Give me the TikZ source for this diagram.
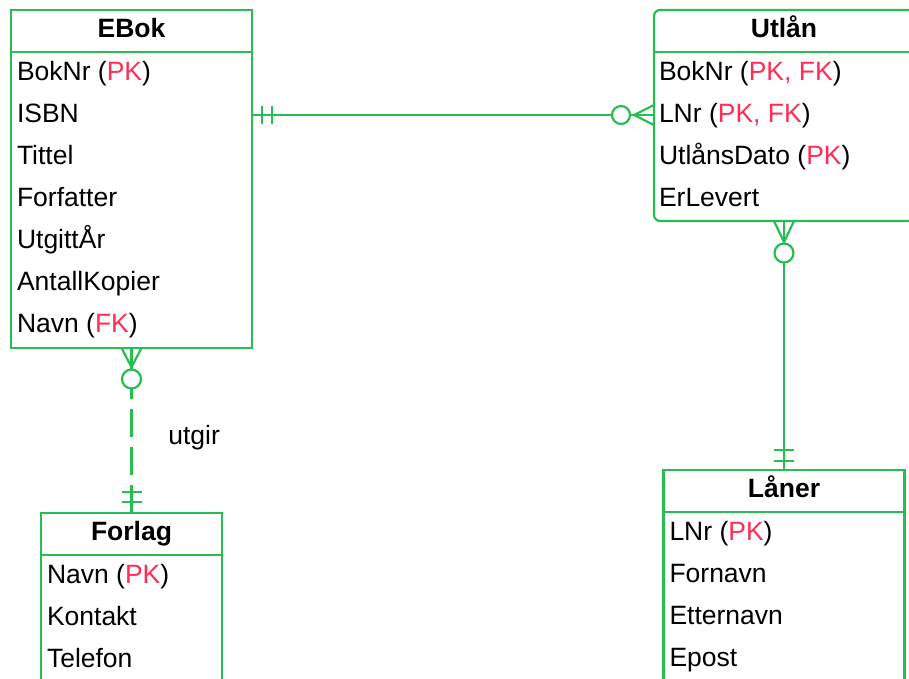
\documentclass[tikz,border=0pt]{standalone}
\usepackage{fontspec}
\setmainfont{Liberation Sans}
\usepackage{xcolor}
\usepackage{tikz}
\usetikzlibrary{positioning,calc}

\definecolor{ergreen}{RGB}{38,190,80}
\definecolor{keyred}{RGB}{255,45,85}
\newcommand{\key}[1]{\textcolor{keyred}{#1}}
\newcommand{\erfont}{\fontsize{26.5}{30}\selectfont}

\tikzset{
  entity/.style={draw=ergreen, line width=2.2pt, rectangle, inner sep=0pt, anchor=north west},
  etitle/.style={minimum height=42pt, inner sep=0pt, text height=19pt, text depth=6pt, font=\erfont\bfseries, anchor=north},
  attr/.style={inner sep=0pt, text height=19pt, text depth=5pt, anchor=west},
  erline/.style={draw=ergreen, line width=2.2pt, line join=round},
}

\begin{document}
\begin{tikzpicture}[x=1pt, y=-1pt, node distance=0cm, outer sep=0pt, font=\erfont]
    \useasboundingbox (0,0) rectangle (909,678);
    \clip (0,0) rectangle (909,678);

    % EBok
    \node [entity, minimum width=241pt, minimum height=338pt] (ebok) at (11,10) {};
    \node [etitle] (ebok-t) at (ebok.north) {EBok};
    \draw [erline] (ebok.west |- ebok-t.south) -- (ebok.east |- ebok-t.south);
    \node [attr] (ebok-a1) at ($(ebok.west |- ebok-t.south)+(6,21)$) {BokNr (\key{PK})};
    \node [attr, below=18pt of ebok-a1.south west, anchor=north west] (ebok-a2) {ISBN};
    \node [attr, below=18pt of ebok-a2.south west, anchor=north west] (ebok-a3) {Tittel};
    \node [attr, below=18pt of ebok-a3.south west, anchor=north west] (ebok-a4) {Forfatter};
    \node [attr, below=18pt of ebok-a4.south west, anchor=north west] (ebok-a5) {UtgittÅr};
    \node [attr, below=18pt of ebok-a5.south west, anchor=north west] (ebok-a6) {AntallKopier};
    \node [attr, below=18pt of ebok-a6.south west, anchor=north west] (ebok-a7) {Navn (\key{FK})};

    % Utlån
    \node [entity, rounded corners=6pt, minimum width=260pt, minimum height=211pt] (utlan) at (654,10) {};
    \node [etitle] (utlan-t) at (utlan.north) {Utlån};
    \draw [erline] (utlan.west |- utlan-t.south) -- (utlan.east |- utlan-t.south);
    \node [attr] (utlan-a1) at ($(utlan.west |- utlan-t.south)+(5,21)$) {BokNr (\key{PK, FK})};
    \node [attr, below=18pt of utlan-a1.south west, anchor=north west] (utlan-a2) {LNr (\key{PK, FK})};
    \node [attr, below=18pt of utlan-a2.south west, anchor=north west] (utlan-a3) {UtlånsDato (\key{PK})};
    \node [attr, below=18pt of utlan-a3.south west, anchor=north west] (utlan-a4) {ErLevert};

    % Forlag
    \node [entity, minimum width=181pt, minimum height=230pt] (forlag) at (41,513) {};
    \node [etitle] (forlag-t) at (forlag.north) {Forlag};
    \draw [erline] (forlag.west |- forlag-t.south) -- (forlag.east |- forlag-t.south);
    \node [attr] (forlag-a1) at ($(forlag.west |- forlag-t.south)+(6,21)$) {Navn (\key{PK})};
    \node [attr, below=18pt of forlag-a1.south west, anchor=north west] (forlag-a2) {Kontakt};
    \node [attr, below=18pt of forlag-a2.south west, anchor=north west] (forlag-a3) {Telefon};

    % Låner
    \node [entity, minimum width=241pt, minimum height=230pt] (laner) at (663.5,470) {};
    \node [etitle] (laner-t) at (laner.north) {Låner};
    \draw [erline] (laner.west |- laner-t.south) -- (laner.east |- laner-t.south);
    \node [attr] (laner-a1) at ($(laner.west |- laner-t.south)+(6,21)$) {LNr (\key{PK})};
    \node [attr, below=18pt of laner-a1.south west, anchor=north west] (laner-a2) {Fornavn};
    \node [attr, below=18pt of laner-a2.south west, anchor=north west] (laner-a3) {Etternavn};
    \node [attr, below=18pt of laner-a3.south west, anchor=north west] (laner-a4) {Epost};

    % EBok -- Utlån (one to zero-or-many)
    \coordinate (r1a) at (ebok-a2 -| ebok.east);
    \coordinate (r1b) at (utlan-a2 -| utlan.west);
    \draw [erline] (r1a) -- (r1b);
    \draw [erline] ($(r1a)+(10,-9)$) -- ($(r1a)+(10,9)$);
    \draw [erline] ($(r1a)+(20,-9)$) -- ($(r1a)+(20,9)$);
    \draw [erline] ($(r1b)+(0,-10)$) -- ($(r1b)+(-20,0)$) -- ($(r1b)+(0,10)$);
    \draw [erline, fill=white] ($(r1b)+(-33,0)$) circle (9pt);

    % Utlån -- Låner
    \coordinate (r2a) at (utlan.south);
    \coordinate (r2b) at (laner.north);
    \draw [erline] (r2a) -- (r2b);
    \draw [erline] ($(r2a)+(-10,0)$) -- ($(r2a)+(0,21)$) -- ($(r2a)+(10,0)$);
    \draw [erline, fill=white] ($(r2a)+(0,32)$) circle (9.5pt);
    \draw [erline] ($(r2b)+(-10,-9)$) -- ($(r2b)+(10,-9)$);
    \draw [erline] ($(r2b)+(-10,-20)$) -- ($(r2b)+(10,-20)$);

    % EBok -- Forlag
    \coordinate (r3a) at (ebok.south);
    \coordinate (r3b) at (forlag.north);
    \coordinate (r3c) at ($(r3a)+(0,31)$);
    \draw [erline] (r3a) -- (r3c);
    \draw [erline, dash pattern=on 28pt off 10pt] (r3b) -- (r3c);
    \draw [erline] ($(r3a)+(-10,0)$) -- ($(r3a)+(0,19)$) -- ($(r3a)+(10,0)$);
    \draw [erline, fill=white] (r3c) circle (9.5pt);
    \draw [erline] ($(r3b)+(-10,-11)$) -- ($(r3b)+(10,-11)$);
    \draw [erline] ($(r3b)+(-10,-21)$) -- ($(r3b)+(10,-21)$);
    \node [anchor=base west] (utgir) at (165,444) {utgir};
\end{tikzpicture}
\end{document}
